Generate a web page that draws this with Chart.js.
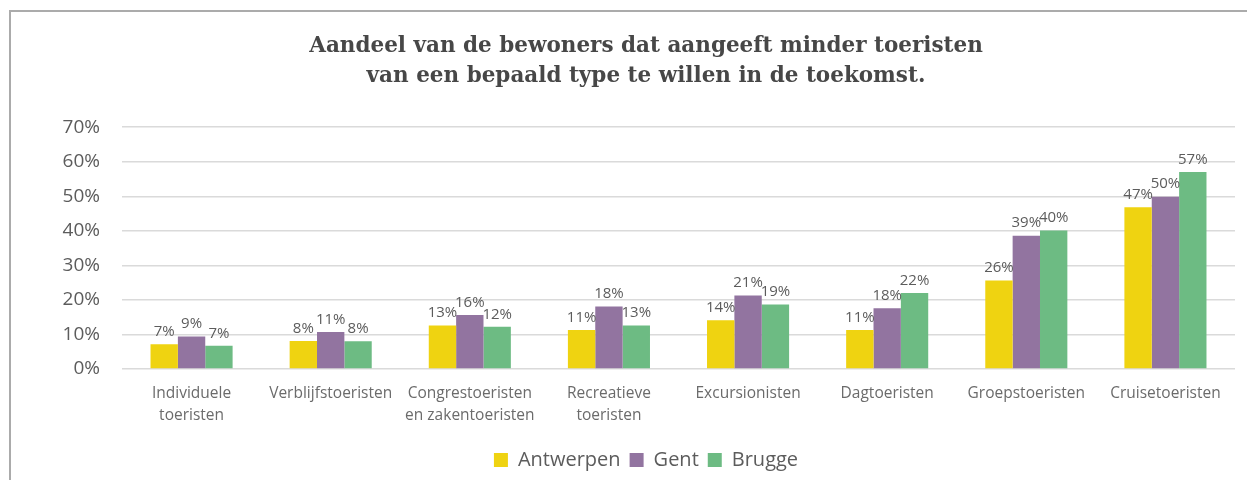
<!DOCTYPE html>
<html>
<head>
<meta charset="utf-8">
<script src="https://cdn.jsdelivr.net/npm/chart.js@4.4.0/dist/chart.umd.min.js"></script>
<style>
  html, body { margin: 0; padding: 0; background: #fff; }
  #holder { position: relative; width: 1247px; height: 480px; }
  #frame { position: absolute; left: 9px; top: 10px; right: 0; bottom: 0;
           border-left: 2px solid #ababab; border-top: 2px solid #ababab; }
  #chart { position: absolute; left: 0; top: 0; }
</style>
</head>
<body>
<div id="holder">
  <div id="frame"></div>
  <canvas id="chart" width="1247" height="480"></canvas>
</div>
<script>
let categories = [
    ["Individuele", "toeristen"],
    "Verblijfstoeristen",
    ["Congrestoeristen", "en zakentoeristen"],
    ["Recreatieve", "toeristen"],
    "Excursionisten",
    "Dagtoeristen",
    "Groepstoeristen",
    "Cruisetoeristen"
]
let antwerpen = [7.2, 8.1, 12.6, 11.3, 14.1, 11.3, 25.6, 46.8]
let gent = [9.4, 10.7, 15.6, 18.1, 21.3, 17.6, 38.6, 49.9]
let brugge = [6.7, 8.0, 12.2, 12.6, 18.7, 22.0, 40.1, 57.0]
let yTicks = [0, 10, 20, 30, 40, 50, 60, 70]

let textGrey = "#5c5c5c"

// percentages above each bar
let valueLabels = {
    id: "valueLabels",
    afterDatasetsDraw(chart) {
        let ctx = chart.ctx
        ctx.save()
        ctx.font = "15px 'Open Sans'"
        ctx.fillStyle = textGrey
        ctx.textAlign = "center"
        ctx.textBaseline = "bottom"
        chart.data.datasets.forEach(function(ds, i) {
            chart.getDatasetMeta(i).data.forEach(function(bar, j) {
                ctx.fillText(Math.round(ds.data[j]) + "%", bar.x, bar.y - 5)
            })
        })
        ctx.restore()
    }
}

let chart = new Chart(
    document.querySelector("#chart"),
    {
        type: "bar",
        data: {
            labels: categories,
            datasets: [
                { label: "Antwerpen", data: antwerpen, backgroundColor: "#efd311" },
                { label: "Gent", data: gent, backgroundColor: "#9274a0" },
                { label: "Brugge", data: brugge, backgroundColor: "#6dbb83" }
            ]
        },
        options: {
            responsive: false,
            animation: false,
            layout: { padding: { left: 57, right: 12, top: 0, bottom: 0 } },
            datasets: { bar: { categoryPercentage: 0.59, barPercentage: 1 } },
            plugins: {
                title: {
                    display: true,
                    text: ["Aandeel van de bewoners dat aangeeft minder toeristen",
                           "van een bepaald type te willen in de toekomst."],
                    font: { family: "'DejaVu Serif'", size: 21.5, weight: "bold", lineHeight: 1.4 },
                    color: "#474747",
                    padding: { top: 31, bottom: 36 }
                },
                legend: {
                    position: "bottom",
                    labels: {
                        boxWidth: 14, boxHeight: 14,
                        font: { family: "'Open Sans'", size: 20 },
                        color: textGrey,
                        padding: 9
                    }
                },
                tooltip: { enabled: false }
            },
            scales: {
                x: {
                    grid: { display: false },
                    border: { display: false },
                    ticks: {
                        font: { family: "'Open Sans'", size: 15.5, lineHeight: 1.4 },
                        color: "#6b6b6b",
                        padding: 6,
                        maxRotation: 0,
                        autoSkip: false
                    },
                    afterFit(scale) { scale.height = 72 }
                },
                y: {
                    min: 0, max: 70,
                    afterBuildTicks(scale) { scale.ticks = yTicks.map(v => ({ value: v })) },
                    grid: { color: "#dadada", lineWidth: 1.5, drawTicks: false },
                    border: { display: false },
                    ticks: {
                        font: { family: "'Open Sans'", size: 19 },
                        color: textGrey,
                        padding: 22,
                        callback: v => v + "%"
                    },
                    afterFit(scale) { scale.width = 65 }
                }
            }
        },
        plugins: [valueLabels]
    }
)
</script>
</body>
</html>
